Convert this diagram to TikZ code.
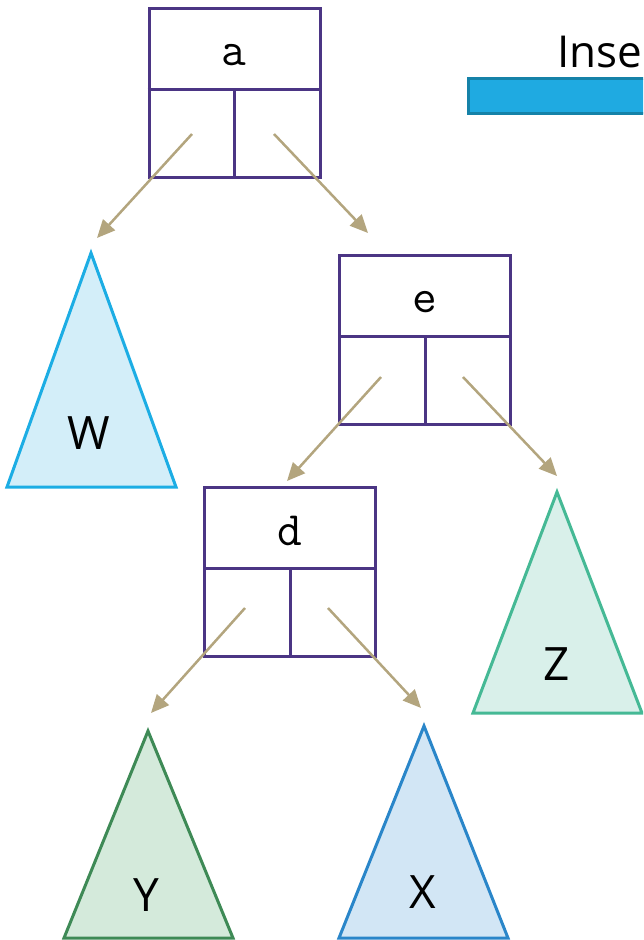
\documentclass[tikz,border=0pt]{standalone}
\usepackage{fontspec}
\setmainfont{Open Sans}
\usetikzlibrary{arrows.meta,calc}
\definecolor{boxc}{HTML}{4B3584}
\definecolor{arrc}{HTML}{B3A57E}
\definecolor{wS}{HTML}{1CADE4}\definecolor{wF}{HTML}{D3EEF9}
\definecolor{zS}{HTML}{45B995}\definecolor{zF}{HTML}{D9F0EA}
\definecolor{yS}{HTML}{3E8A56}\definecolor{yF}{HTML}{D4EADB}
\definecolor{xS}{HTML}{2A86C9}\definecolor{xF}{HTML}{D2E6F5}
\definecolor{barF}{HTML}{1FAAE1}\definecolor{barS}{HTML}{1582A8}
\tikzset{
  nodebox/.style={draw=boxc, line width=3pt, minimum width=171pt, minimum height=169pt, inner sep=0pt},
  divider/.style={draw=boxc, line width=3pt},
  keytext/.style={font=\ttfamily\fontsize{48}{48}\selectfont, anchor=base, inner sep=0pt},
  subtext/.style={font=\fontsize{46}{46}\selectfont, anchor=base, inner sep=0pt},
  arr/.style={draw=arrc, line width=2.5pt, -{Triangle[length=18pt,width=16pt]}},
  tri/.style={line width=3pt, line join=miter}
}
\begin{document}
\begin{tikzpicture}[x=1pt,y=-1pt]
\useasboundingbox (0,0) rectangle (643,940);
\clip (0,0) rectangle (643,940);
% title and bar
\node[font=\fontsize{44}{44}\selectfont, anchor=base west, inner sep=0pt] (title) at (557,67) {Insert};
\node[draw=barS, fill=barF, line width=3pt, anchor=north west, minimum width=300pt, minimum height=35pt, inner sep=0pt] (bar) at (467,77) {};
% boxes
\node[nodebox] (a) at (234.5,92.5) {};
\node[nodebox] (e) at (425,339.5) {};
\node[nodebox] (d) at (290,571.5) {};
\foreach \n in {a,e,d}{
  \draw[divider] ($(\n.north west)+(0,83)$) -- ($(\n.north east)+(0,83)$);
  \draw[divider] ($(\n.north)+(0,83)$) -- (\n.south);
}
\node[keytext] (ta) at (234,65) {a};
\node[keytext] (te) at (425,312) {e};
\node[keytext] (td) at (290,545) {d};
% triangles
\draw[tri, draw=wS, fill=wF] (91,253) coordinate (W) -- (176,487) -- (7,487) -- cycle;
\draw[tri, draw=zS, fill=zF] (557,492) coordinate (Z) -- (642,713) -- (473,713) -- cycle;
\draw[tri, draw=yS, fill=yF] (148,731) coordinate (Y) -- (233,938) -- (64,938) -- cycle;
\draw[tri, draw=xS, fill=xF] (424,726) coordinate (X) -- (508,938) -- (339,938) -- cycle;
\node[subtext] (lw) at (89,449) {W};
\node[subtext] (lz) at (557,680) {Z};
\node[subtext] (ly) at (146,911) {Y};
\node[subtext] (lx) at (423,908) {X};
% arrow end points
\coordinate (aL) at ($(a.center)+(-42.5,41.5)$);
\coordinate (aR) at ($(a.center)+(39.5,41.5)$);
\coordinate (eL) at ($(e.center)+(-44,37.5)$);
\coordinate (eR) at ($(e.center)+(38,37.5)$);
\coordinate (dL) at ($(d.center)+(-45,36.5)$);
\coordinate (dR) at ($(d.center)+(38,36.5)$);
\coordinate (aLe) at (97,238);
\coordinate (aRe) at (368,233);
\coordinate (eLe) at (287,481);
\coordinate (eRe) at (557,476);
\coordinate (dLe) at (151,713);
\coordinate (dRe) at (421,708);
\draw[arr] (aL) -- (aLe);
\draw[arr] (aR) -- (aRe);
\draw[arr] (eL) -- (eLe);
\draw[arr] (eR) -- (eRe);
\draw[arr] (dL) -- (dLe);
\draw[arr] (dR) -- (dRe);
\end{tikzpicture}
\end{document}
